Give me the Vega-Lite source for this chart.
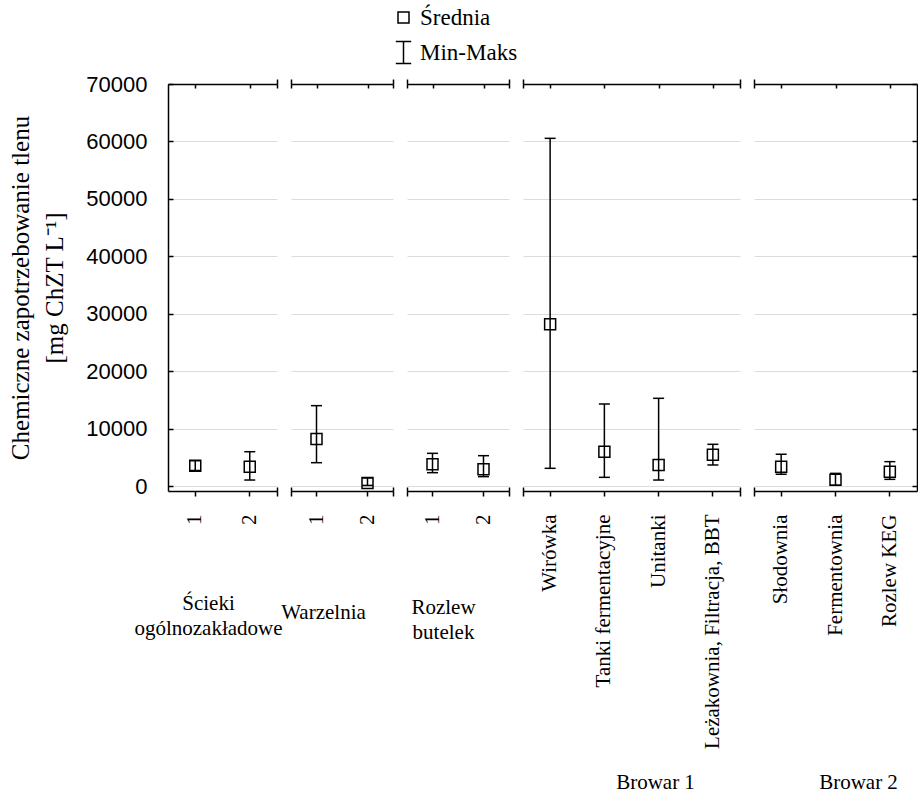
{
  "$schema": "https://vega.github.io/schema/vega-lite/v6.json",
  "background": "white",
  "padding": {"left": 8, "top": 6, "right": 0, "bottom": 2},
  "datasets": {
    "d": [
      {"g": "A", "item": "1", "mean": 3530, "min": 2700, "max": 4400},
      {"g": "A", "item": "2", "mean": 3370, "min": 1040, "max": 5970},
      {"g": "B", "item": "1", "mean": 8180, "min": 4060, "max": 13990},
      {"g": "B", "item": "2", "mean": 520, "min": 100, "max": 1400},
      {"g": "C", "item": "1", "mean": 3770, "min": 2320, "max": 5690},
      {"g": "C", "item": "2", "mean": 2900, "min": 1630, "max": 5280},
      {"g": "D", "item": "Wirówka", "mean": 28150, "min": 3080, "max": 60540},
      {"g": "D", "item": "Tanki fermentacyjne", "mean": 5980, "min": 1510, "max": 14280},
      {"g": "D", "item": "Unitanki", "mean": 3660, "min": 1040, "max": 15270},
      {"g": "D", "item": "Leżakownia, Filtracja, BBT", "mean": 5460, "min": 3660, "max": 7260},
      {"g": "E", "item": "Słodownia", "mean": 3370, "min": 2030, "max": 5510},
      {"g": "E", "item": "Fermentownia", "mean": 1100, "min": 120, "max": 2200},
      {"g": "E", "item": "Rozlew KEG", "mean": 2500, "min": 1160, "max": 4240}
    ]
  },
  "bounds": "flush",
  "spacing": 14,
  "hconcat": [
    {
      "width": 109, "height": 407,
      "data": {"name": "d"},
      "transform": [{"filter": "datum.g === 'A'"}],
      "layer": [
        {"mark": {"type": "rule", "color": "black", "strokeWidth": 1.5},
         "encoding": {
           "x": {"field": "item", "type": "nominal", "sort": null, "scale": {"paddingInner": 0, "paddingOuter": 0},
                 "axis": {"orient": "bottom", "title": ["Ścieki", "ogólnozakładowe"], "titleX": 40, "titleY": 112}},
           "y": {"field": "min", "type": "quantitative", "scale": {"domain": [-870, 70000], "nice": false, "zero": false},
                 "axis": {"orient": "left", "values": [0, 10000, 20000, 30000, 40000, 50000, 60000, 70000], "format": "d",
                          "grid": true, "domain": true, "ticks": true, "tickSize": -5, "labels": true,
                          "labelFont": "Liberation Sans", "labelFontSize": 22, "labelPadding": 26,
                          "title": ["Chemiczne zapotrzebowanie tlenu", "[mg ChZT L⁻¹]"], "titleFontSize": 25, "titleLineHeight": 34, "titlePadding": 18}},
           "y2": {"field": "max"}}},
        {"mark": {"type": "tick", "color": "black", "thickness": 1.5, "size": 11, "opacity": 1},
         "encoding": {"x": {"field": "item", "type": "nominal", "sort": null, "scale": {"paddingInner": 0, "paddingOuter": 0}, "axis": null},
                      "y": {"field": "min", "type": "quantitative"}}},
        {"mark": {"type": "tick", "color": "black", "thickness": 1.5, "size": 11, "opacity": 1},
         "encoding": {"x": {"field": "item", "type": "nominal", "sort": null, "scale": {"paddingInner": 0, "paddingOuter": 0}, "axis": null},
                      "y": {"field": "max", "type": "quantitative"}}},
        {"mark": {"type": "point", "filled": false, "color": "black", "strokeWidth": 1.5, "size": 121, "opacity": 1},
         "encoding": {"x": {"field": "item", "type": "nominal", "sort": null, "scale": {"paddingInner": 0, "paddingOuter": 0},
                            "axis": {"orient": "top", "labels": false, "title": null, "tickSize": -4}},
                      "y": {"field": "mean", "type": "quantitative"},
                      "shape": {"datum": "Średnia", "scale": {"domain": ["Średnia", "Min-Maks"], "range": ["square", "M-1.4,-2H1.4M0,-2V2M-1.4,2H1.4"]}, "legend": {"title": null}}}},
        {"mark": {"type": "point", "opacity": 0}, "encoding": {"x": {"datum": 0.5, "type": "quantitative", "scale": {"domain": [0, 1], "nice": false}, "axis": {"orient": "bottom", "values": [1], "domain": false, "labels": false, "title": null, "tickSize": 5}}}},
        {"mark": {"type": "point", "opacity": 0}, "encoding": {"x": {"datum": 0.5, "type": "quantitative", "scale": {"domain": [0, 1], "nice": false}, "axis": {"orient": "bottom", "values": [1], "domain": false, "labels": false, "title": null, "tickSize": -4}}}},
        {"mark": {"type": "point", "opacity": 0}, "encoding": {"x": {"datum": 0.5, "type": "quantitative", "scale": {"domain": [0, 1], "nice": false}, "axis": {"orient": "top", "values": [1], "domain": false, "labels": false, "title": null, "tickSize": 5}}}},
        {"mark": {"type": "point", "opacity": 0}, "encoding": {"x": {"datum": 0.5, "type": "quantitative", "scale": {"domain": [0, 1], "nice": false}, "axis": {"orient": "top", "values": [1], "domain": false, "labels": false, "title": null, "tickSize": -4}}}}
      ],
      "resolve": {"scale": {"x": "independent"}, "axis": {"x": "independent"}}
    },
    {
      "width": 102, "height": 407,
      "data": {"name": "d"},
      "transform": [{"filter": "datum.g === 'B'"}],
      "layer": [
        {"mark": {"type": "rule", "color": "black", "strokeWidth": 1.5},
         "encoding": {
           "x": {"field": "item", "type": "nominal", "sort": null, "scale": {"paddingInner": 0, "paddingOuter": 0},
                 "axis": {"orient": "bottom", "title": "Warzelnia", "titleX": 32, "titleY": 121}},
           "y": {"field": "min", "type": "quantitative", "scale": {"domain": [-870, 70000], "nice": false, "zero": false},
                 "axis": {"values": [0, 10000, 20000, 30000, 40000, 50000, 60000, 70000], "grid": true, "domain": false, "ticks": false, "labels": false, "title": null}},
           "y2": {"field": "max"}}},
        {"mark": {"type": "tick", "color": "black", "thickness": 1.5, "size": 11, "opacity": 1},
         "encoding": {"x": {"field": "item", "type": "nominal", "sort": null, "scale": {"paddingInner": 0, "paddingOuter": 0}, "axis": null},
                      "y": {"field": "min", "type": "quantitative"}}},
        {"mark": {"type": "tick", "color": "black", "thickness": 1.5, "size": 11, "opacity": 1},
         "encoding": {"x": {"field": "item", "type": "nominal", "sort": null, "scale": {"paddingInner": 0, "paddingOuter": 0}, "axis": null},
                      "y": {"field": "max", "type": "quantitative"}}},
        {"mark": {"type": "point", "filled": false, "color": "black", "strokeWidth": 1.5, "size": 121, "opacity": 1},
         "encoding": {"x": {"field": "item", "type": "nominal", "sort": null, "scale": {"paddingInner": 0, "paddingOuter": 0},
                            "axis": {"orient": "top", "labels": false, "title": null, "tickSize": -4}},
                      "y": {"field": "mean", "type": "quantitative"},
                      "shape": {"datum": "Średnia", "scale": {"domain": ["Średnia", "Min-Maks"], "range": ["square", "M-1.4,-2H1.4M0,-2V2M-1.4,2H1.4"]}, "legend": {"title": null}}}},
        {"mark": {"type": "point", "opacity": 0}, "encoding": {"x": {"datum": 0.5, "type": "quantitative", "scale": {"domain": [0, 1], "nice": false}, "axis": {"orient": "bottom", "values": [0, 1], "domain": false, "labels": false, "title": null, "tickSize": 5}}}},
        {"mark": {"type": "point", "opacity": 0}, "encoding": {"x": {"datum": 0.5, "type": "quantitative", "scale": {"domain": [0, 1], "nice": false}, "axis": {"orient": "bottom", "values": [0, 1], "domain": false, "labels": false, "title": null, "tickSize": -4}}}},
        {"mark": {"type": "point", "opacity": 0}, "encoding": {"x": {"datum": 0.5, "type": "quantitative", "scale": {"domain": [0, 1], "nice": false}, "axis": {"orient": "top", "values": [0, 1], "domain": false, "labels": false, "title": null, "tickSize": 5}}}},
        {"mark": {"type": "point", "opacity": 0}, "encoding": {"x": {"datum": 0.5, "type": "quantitative", "scale": {"domain": [0, 1], "nice": false}, "axis": {"orient": "top", "values": [0, 1], "domain": false, "labels": false, "title": null, "tickSize": -4}}}}
      ],
      "resolve": {"scale": {"x": "independent"}, "axis": {"x": "independent"}}
    },
    {
      "width": 102, "height": 407,
      "data": {"name": "d"},
      "transform": [{"filter": "datum.g === 'C'"}],
      "layer": [
        {"mark": {"type": "rule", "color": "black", "strokeWidth": 1.5},
         "encoding": {
           "x": {"field": "item", "type": "nominal", "sort": null, "scale": {"paddingInner": 0, "paddingOuter": 0},
                 "axis": {"orient": "bottom", "title": ["Rozlew", "butelek"], "titleX": 36, "titleY": 116}},
           "y": {"field": "min", "type": "quantitative", "scale": {"domain": [-870, 70000], "nice": false, "zero": false},
                 "axis": {"values": [0, 10000, 20000, 30000, 40000, 50000, 60000, 70000], "grid": true, "domain": false, "ticks": false, "labels": false, "title": null}},
           "y2": {"field": "max"}}},
        {"mark": {"type": "tick", "color": "black", "thickness": 1.5, "size": 11, "opacity": 1},
         "encoding": {"x": {"field": "item", "type": "nominal", "sort": null, "scale": {"paddingInner": 0, "paddingOuter": 0}, "axis": null},
                      "y": {"field": "min", "type": "quantitative"}}},
        {"mark": {"type": "tick", "color": "black", "thickness": 1.5, "size": 11, "opacity": 1},
         "encoding": {"x": {"field": "item", "type": "nominal", "sort": null, "scale": {"paddingInner": 0, "paddingOuter": 0}, "axis": null},
                      "y": {"field": "max", "type": "quantitative"}}},
        {"mark": {"type": "point", "filled": false, "color": "black", "strokeWidth": 1.5, "size": 121, "opacity": 1},
         "encoding": {"x": {"field": "item", "type": "nominal", "sort": null, "scale": {"paddingInner": 0, "paddingOuter": 0},
                            "axis": {"orient": "top", "labels": false, "title": null, "tickSize": -4}},
                      "y": {"field": "mean", "type": "quantitative"},
                      "shape": {"datum": "Średnia", "scale": {"domain": ["Średnia", "Min-Maks"], "range": ["square", "M-1.4,-2H1.4M0,-2V2M-1.4,2H1.4"]}, "legend": {"title": null}}}},
        {"mark": {"type": "point", "opacity": 0}, "encoding": {"x": {"datum": 0.5, "type": "quantitative", "scale": {"domain": [0, 1], "nice": false}, "axis": {"orient": "bottom", "values": [0, 1], "domain": false, "labels": false, "title": null, "tickSize": 5}}}},
        {"mark": {"type": "point", "opacity": 0}, "encoding": {"x": {"datum": 0.5, "type": "quantitative", "scale": {"domain": [0, 1], "nice": false}, "axis": {"orient": "bottom", "values": [0, 1], "domain": false, "labels": false, "title": null, "tickSize": -4}}}},
        {"mark": {"type": "point", "opacity": 0}, "encoding": {"x": {"datum": 0.5, "type": "quantitative", "scale": {"domain": [0, 1], "nice": false}, "axis": {"orient": "top", "values": [0, 1], "domain": false, "labels": false, "title": null, "tickSize": 5}}}},
        {"mark": {"type": "point", "opacity": 0}, "encoding": {"x": {"datum": 0.5, "type": "quantitative", "scale": {"domain": [0, 1], "nice": false}, "axis": {"orient": "top", "values": [0, 1], "domain": false, "labels": false, "title": null, "tickSize": -4}}}}
      ],
      "resolve": {"scale": {"x": "independent"}, "axis": {"x": "independent"}}
    },
    {
      "width": 217, "height": 407,
      "data": {"name": "d"},
      "transform": [{"filter": "datum.g === 'D'"}],
      "layer": [
        {"mark": {"type": "rule", "color": "black", "strokeWidth": 1.5},
         "encoding": {
           "x": {"field": "item", "type": "nominal", "sort": null, "scale": {"paddingInner": 0, "paddingOuter": 0},
                 "axis": {"orient": "bottom", "title": "Browar 1", "titleX": 132, "titleY": 291}},
           "y": {"field": "min", "type": "quantitative", "scale": {"domain": [-870, 70000], "nice": false, "zero": false},
                 "axis": {"values": [0, 10000, 20000, 30000, 40000, 50000, 60000, 70000], "grid": true, "domain": false, "ticks": false, "labels": false, "title": null}},
           "y2": {"field": "max"}}},
        {"mark": {"type": "tick", "color": "black", "thickness": 1.5, "size": 11, "opacity": 1},
         "encoding": {"x": {"field": "item", "type": "nominal", "sort": null, "scale": {"paddingInner": 0, "paddingOuter": 0}, "axis": null},
                      "y": {"field": "min", "type": "quantitative"}}},
        {"mark": {"type": "tick", "color": "black", "thickness": 1.5, "size": 11, "opacity": 1},
         "encoding": {"x": {"field": "item", "type": "nominal", "sort": null, "scale": {"paddingInner": 0, "paddingOuter": 0}, "axis": null},
                      "y": {"field": "max", "type": "quantitative"}}},
        {"mark": {"type": "point", "filled": false, "color": "black", "strokeWidth": 1.5, "size": 121, "opacity": 1},
         "encoding": {"x": {"field": "item", "type": "nominal", "sort": null, "scale": {"paddingInner": 0, "paddingOuter": 0},
                            "axis": {"orient": "top", "labels": false, "title": null, "tickSize": -4}},
                      "y": {"field": "mean", "type": "quantitative"},
                      "shape": {"datum": "Średnia", "scale": {"domain": ["Średnia", "Min-Maks"], "range": ["square", "M-1.4,-2H1.4M0,-2V2M-1.4,2H1.4"]}, "legend": {"title": null}}}},
        {"mark": {"type": "point", "opacity": 0}, "encoding": {"x": {"datum": 0.5, "type": "quantitative", "scale": {"domain": [0, 1], "nice": false}, "axis": {"orient": "bottom", "values": [0, 1], "domain": false, "labels": false, "title": null, "tickSize": 5}}}},
        {"mark": {"type": "point", "opacity": 0}, "encoding": {"x": {"datum": 0.5, "type": "quantitative", "scale": {"domain": [0, 1], "nice": false}, "axis": {"orient": "bottom", "values": [0, 1], "domain": false, "labels": false, "title": null, "tickSize": -4}}}},
        {"mark": {"type": "point", "opacity": 0}, "encoding": {"x": {"datum": 0.5, "type": "quantitative", "scale": {"domain": [0, 1], "nice": false}, "axis": {"orient": "top", "values": [0, 1], "domain": false, "labels": false, "title": null, "tickSize": 5}}}},
        {"mark": {"type": "point", "opacity": 0}, "encoding": {"x": {"datum": 0.5, "type": "quantitative", "scale": {"domain": [0, 1], "nice": false}, "axis": {"orient": "top", "values": [0, 1], "domain": false, "labels": false, "title": null, "tickSize": -4}}}}
      ],
      "resolve": {"scale": {"x": "independent"}, "axis": {"x": "independent"}}
    },
    {
      "width": 163, "height": 407,
      "data": {"name": "d"},
      "transform": [{"filter": "datum.g === 'E'"}],
      "layer": [
        {"mark": {"type": "rule", "color": "black", "strokeWidth": 1.5},
         "encoding": {
           "x": {"field": "item", "type": "nominal", "sort": null, "scale": {"paddingInner": 0, "paddingOuter": 0},
                 "axis": {"orient": "bottom", "title": "Browar 2", "titleX": 104, "titleY": 291}},
           "y": {"field": "min", "type": "quantitative", "scale": {"domain": [-870, 70000], "nice": false, "zero": false},
                 "axis": {"orient": "right", "values": [0, 10000, 20000, 30000, 40000, 50000, 60000, 70000], "grid": true, "domain": true, "ticks": true, "tickSize": -5, "labels": false, "title": null}},
           "y2": {"field": "max"}}},
        {"mark": {"type": "tick", "color": "black", "thickness": 1.5, "size": 11, "opacity": 1},
         "encoding": {"x": {"field": "item", "type": "nominal", "sort": null, "scale": {"paddingInner": 0, "paddingOuter": 0}, "axis": null},
                      "y": {"field": "min", "type": "quantitative"}}},
        {"mark": {"type": "tick", "color": "black", "thickness": 1.5, "size": 11, "opacity": 1},
         "encoding": {"x": {"field": "item", "type": "nominal", "sort": null, "scale": {"paddingInner": 0, "paddingOuter": 0}, "axis": null},
                      "y": {"field": "max", "type": "quantitative"}}},
        {"mark": {"type": "point", "filled": false, "color": "black", "strokeWidth": 1.5, "size": 121, "opacity": 1},
         "encoding": {"x": {"field": "item", "type": "nominal", "sort": null, "scale": {"paddingInner": 0, "paddingOuter": 0},
                            "axis": {"orient": "top", "labels": false, "title": null, "tickSize": -4}},
                      "y": {"field": "mean", "type": "quantitative"},
                      "shape": {"datum": "Średnia", "scale": {"domain": ["Średnia", "Min-Maks"], "range": ["square", "M-1.4,-2H1.4M0,-2V2M-1.4,2H1.4"]}, "legend": {"title": null}}}},
        {"mark": {"type": "point", "opacity": 0}, "encoding": {"x": {"datum": 0.5, "type": "quantitative", "scale": {"domain": [0, 1], "nice": false}, "axis": {"orient": "bottom", "values": [0], "domain": false, "labels": false, "title": null, "tickSize": 5}}}},
        {"mark": {"type": "point", "opacity": 0}, "encoding": {"x": {"datum": 0.5, "type": "quantitative", "scale": {"domain": [0, 1], "nice": false}, "axis": {"orient": "bottom", "values": [0], "domain": false, "labels": false, "title": null, "tickSize": -4}}}},
        {"mark": {"type": "point", "opacity": 0}, "encoding": {"x": {"datum": 0.5, "type": "quantitative", "scale": {"domain": [0, 1], "nice": false}, "axis": {"orient": "top", "values": [0], "domain": false, "labels": false, "title": null, "tickSize": 5}}}},
        {"mark": {"type": "point", "opacity": 0}, "encoding": {"x": {"datum": 0.5, "type": "quantitative", "scale": {"domain": [0, 1], "nice": false}, "axis": {"orient": "top", "values": [0], "domain": false, "labels": false, "title": null, "tickSize": -4}}}}
      ],
      "resolve": {"scale": {"x": "independent"}, "axis": {"x": "independent"}}
    }
  ],
  "config": {
    "view": {"stroke": null},
    "axis": {
      "domainColor": "black", "domainWidth": 1.5, "tickColor": "black", "tickWidth": 1.5,
      "labelFont": "Liberation Serif", "labelColor": "black", "labelFontSize": 21,
      "titleFont": "Liberation Serif", "titleColor": "black", "titleFontWeight": "normal", "titleFontSize": 21,
      "gridColor": "#dcdcdc", "gridWidth": 1, "grid": false
    },
    "axisX": {
      "labelAngle": 270, "labelAlign": "right", "labelBaseline": "middle", "labelPadding": 18, "labelLimit": 0,
      "titleAlign": "center", "titleBaseline": "middle", "titleLineHeight": 25
    },
    "legend": {
      "orient": "none", "legendX": 224, "legendY": -78, "direction": "vertical",
      "labelFont": "Liberation Serif", "labelFontSize": 23, "labelColor": "black", "labelOffset": 5,
      "symbolSize": 121, "symbolStrokeWidth": 1.5, "symbolStrokeColor": "black", "rowPadding": 8
    }
  }
}
